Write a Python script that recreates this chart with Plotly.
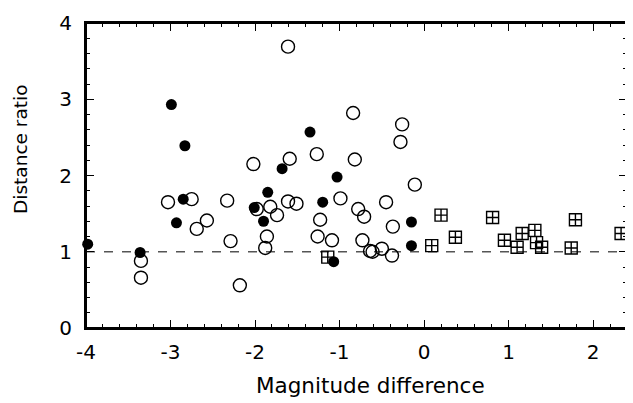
import plotly.graph_objects as go

# Open circles
open_x = [-3.35, -3.35, -3.03, -2.75, -2.69, -2.57, -2.33, -2.29, -2.18, -2.02,
          -1.98, -1.82, -1.86, -1.88, -1.74, -1.61, -1.59, -1.61, -1.51, -1.27,
          -1.23, -1.26, -1.09, -0.99, -0.84, -0.82, -0.78, -0.71, -0.73, -0.64,
          -0.61, -0.50, -0.45, -0.38, -0.37, -0.26, -0.28, -0.11]
open_y = [0.88, 0.66, 1.65, 1.69, 1.30, 1.41, 1.67, 1.14, 0.56, 2.15,
          1.56, 1.59, 1.20, 1.05, 1.48, 3.69, 2.22, 1.66, 1.63, 2.28,
          1.42, 1.20, 1.15, 1.70, 2.82, 2.21, 1.56, 1.46, 1.15, 1.01,
          1.00, 1.04, 1.65, 0.95, 1.33, 2.67, 2.44, 1.88]

# Filled circles
filled_x = [-3.98, -3.36, -2.99, -2.83, -2.85, -2.93, -2.01, -1.90, -1.85, -1.68,
            -1.35, -1.20, -1.03, -1.07, -0.15, -0.15]
filled_y = [1.10, 0.99, 2.93, 2.39, 1.69, 1.38, 1.58, 1.40, 1.78, 2.09,
            2.57, 1.65, 1.98, 0.87, 1.39, 1.08]

# Crossed squares
sq_x = [-1.14, 0.09, 0.20, 0.37, 0.81, 0.95, 1.10, 1.16, 1.31, 1.33, 1.39, 1.74, 1.79, 2.33]
sq_y = [0.93, 1.08, 1.48, 1.19, 1.45, 1.15, 1.06, 1.24, 1.28, 1.12, 1.06, 1.05, 1.42, 1.24]

x_ticks = [-4, -3, -2, -1, 0, 1, 2]
y_ticks = [0, 1, 2, 3, 4]
ref_ratio = 1
x_title = "Magnitude difference"
y_title = "Distance ratio"

FONT = "DejaVu Sans, Liberation Sans, Arial, sans-serif"

fig = go.Figure()
fig.add_trace(go.Scatter(x=open_x, y=open_y, mode="markers", cliponaxis=False,
                         marker=dict(symbol="circle-open", size=13, color="black",
                                     line=dict(width=1.4, color="black"))))
fig.add_trace(go.Scatter(x=filled_x, y=filled_y, mode="markers", cliponaxis=False,
                         marker=dict(symbol="circle", size=11, color="black",
                                     line=dict(width=0))))
fig.add_trace(go.Scatter(x=sq_x, y=sq_y, mode="markers", cliponaxis=False,
                         marker=dict(symbol="square-cross-open", size=12, color="black",
                                     line=dict(width=1.4, color="black"))))

fig.add_shape(type="line", xref="paper", x0=0, x1=1, yref="y", y0=ref_ratio, y1=ref_ratio,
              line=dict(color="#555555", width=1.3, dash="dash"), layer="below")
# plot frame
fig.add_shape(type="rect", xref="paper", yref="paper", x0=0, x1=1, y0=0, y1=1,
              line=dict(color="black", width=2), fillcolor="rgba(0,0,0,0)", layer="above")

axis_common = dict(showgrid=False, zeroline=False, showline=True, linecolor="black",
                   linewidth=2, mirror="allticks", ticks="inside", ticklen=8, tickwidth=1.3,
                   tickcolor="black", automargin=False,
                   tickfont=dict(family=FONT, size=20, color="black"))

fig.update_xaxes(range=[-4, 2.4], tickvals=x_ticks, ticktext=[str(v) for v in x_ticks],
                 minor=dict(dtick=0.2, tick0=0, ticks="inside", ticklen=4, tickwidth=1,
                            tickcolor="black", showgrid=False),
                 ticklabelstandoff=5,
                 **axis_common)
fig.update_yaxes(range=[0, 4], tickvals=y_ticks, ticktext=[str(v) for v in y_ticks],
                 minor=dict(dtick=0.2, tick0=0, ticks="inside", ticklen=4, tickwidth=1,
                            tickcolor="black", showgrid=False),
                 ticklabelstandoff=8,
                 **axis_common)

# Axis titles (placed as annotations to match the reference's offsets)
fig.add_annotation(text=x_title, xref="paper", yref="paper", x=0.525, y=-0.19,
                   xanchor="center", yanchor="middle", showarrow=False,
                   font=dict(family=FONT, size=21.5, color="black"))
fig.add_annotation(text=y_title, xref="paper", yref="paper", x=-0.12, y=0.584,
                   xanchor="center", yanchor="middle", showarrow=False, textangle=-90,
                   font=dict(family=FONT, size=18.5, color="black"))

fig.update_layout(width=625, height=395, showlegend=False,
                  margin=dict(l=78, r=6, t=15, b=75, pad=0),
                  paper_bgcolor="white", plot_bgcolor="white",
                  font=dict(family=FONT, color="black"))

fig.write_html("out.html")
